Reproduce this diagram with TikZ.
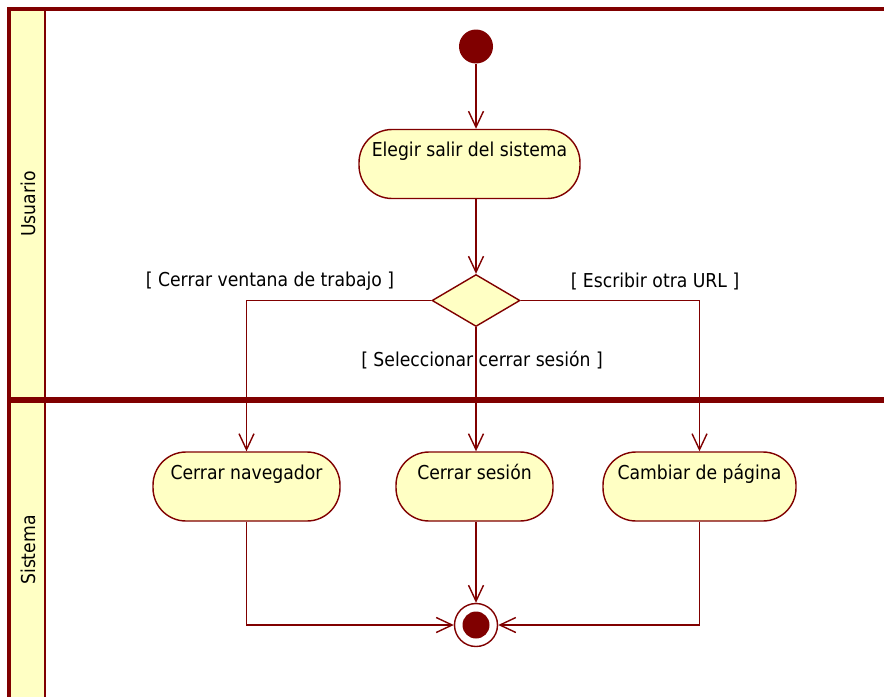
\documentclass[tikz,border=0pt]{standalone}
\usepackage{fontspec}
\setmainfont{DejaVu Sans Condensed}
\usetikzlibrary{shapes.geometric, arrows.meta}

\definecolor{umlred}{HTML}{800000}
\definecolor{umlfill}{HTML}{FFFFC4}

\begin{document}
\begin{tikzpicture}[x=0.02cm, y=-0.02cm,
    font=\fontsize{10.9pt}{13pt}\selectfont,
    action/.style={draw=umlred, fill=umlfill, line width=0.8pt, rectangle,
      rounded corners=0.66cm, minimum height=1.38cm, inner xsep=0pt,
      text height=0.3cm, text depth=0.6cm},
    choice/.style={draw=umlred, fill=umlfill, line width=0.8pt, diamond,
      inner sep=0pt, minimum width=1.76cm, minimum height=1.04cm},
    flow/.style={draw=umlred, line width=0.8pt, -{Straight Barb[length=3.2mm, width=3mm]}},
    guard/.style={inner sep=0pt}]
    % Fix the page size
    \useasboundingbox (0,0) rectangle (884,696);
    \clip (0,0) rectangle (884,696);

    % Draw swimlanes
    \fill[umlfill] (9,9) rectangle (45,720);
    \draw[umlred, line width=2pt] (9,720) -- (9,9) -- (900,9);
    \draw[umlred, line width=1.6pt] (45,9) -- (45,720);
    \draw[umlred, line width=3pt] (9,400) -- (900,400);
    \node[rotate=90] (usuario) at (28,204) {Usuario};
    \node[rotate=90] (sistema) at (28,550) {Sistema};

    % Start, actions and decision
    \node[circle, fill=umlred, minimum size=0.68cm, inner sep=0pt] (start) at (476,46.5) {};
    \node[action, minimum width=4.42cm] (elegir) at (469.5,164) {Elegir salir del sistema};
    \node[choice] (decision) at (476,300.5) {};
    \node[action, minimum width=3.74cm] (navegador) at (246.5,486.5) {Cerrar navegador};
    \node[action, minimum width=3.14cm] (sesion) at (474.5,486.5) {Cerrar sesión};
    \node[action, minimum width=3.86cm] (pagina) at (699.5,486.5) {Cambiar de página};
    \node[circle, draw=umlred, line width=0.8pt, fill=white, minimum size=0.86cm, inner sep=0pt,
      path picture={\fill[umlred] (path picture bounding box.center) circle (0.27cm);}] (final) at (476,625) {};

    % Guards
    \node[guard] (gventana) at (270,281) {[ Cerrar ventana de trabajo ]};
    \node[guard] (gurl) at (655,281) {[ Escribir otra URL ]};
    \node[guard] (gsesion) at (482,360) {[ Seleccionar cerrar sesión ]};

    % Draw flows
    \draw[flow] (start) -- (start |- elegir.north);
    \draw[flow] (elegir.south -| start) -- (decision.north);
    \draw[flow] (decision.west) -| (navegador.north);
    \draw[flow] (decision.south) -- (decision |- sesion.north);
    \draw[flow] (decision.east) -| (pagina.north);
    \draw[flow] (navegador.south) |- (final.west);
    \draw[flow] (sesion.south -| final) -- (final.north);
    \draw[flow] (pagina.south) |- (final.east);
\end{tikzpicture}
\end{document}
